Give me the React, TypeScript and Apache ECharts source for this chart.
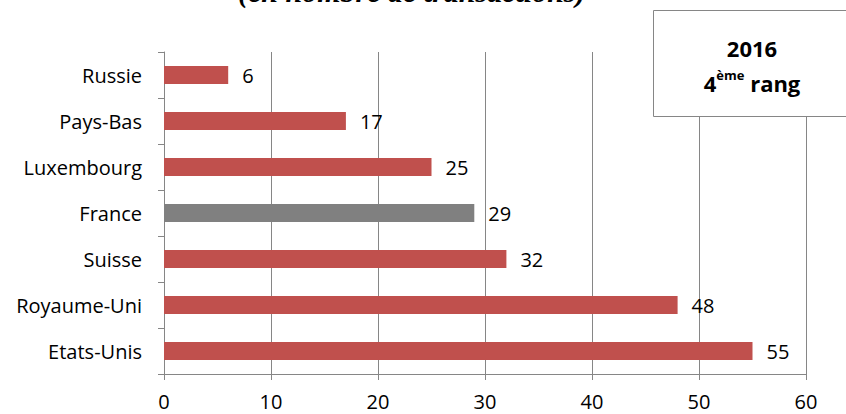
import React, { useEffect, useRef } from "react";
import * as echarts from "echarts";

const categories = ["Etats-Unis", "Royaume-Uni", "Suisse", "France", "Luxembourg", "Pays-Bas", "Russie"];
const values = [55, 48, 32, 29, 25, 17, 6];
const highlight = "France";
const xTicks = [0, 10, 20, 30, 40, 50, 60];
const titleText = "(en nombre de transactions)";
const boxYear = "2016";

const RED = "#C0504D";
const GREY = "#808080";
const AXIS = "#868686";
const FONT = "'Open Sans', 'Noto Sans', sans-serif";

export default function App() {
  const ref = useRef<HTMLDivElement>(null);
  useEffect(() => {
    document.body.style.margin = "0";
    const chart = echarts.init(ref.current!, null, { renderer: "svg" });
    chart.setOption({
      animation: false,
      backgroundColor: "#ffffff",
      grid: { left: 164, right: 40, top: 52, bottom: 40, containLabel: false },
      xAxis: {
        type: "value",
        min: xTicks[0],
        max: xTicks[xTicks.length - 1],
        interval: 10,
        axisLine: { show: true, lineStyle: { color: AXIS, width: 1 } },
        axisTick: { show: true, length: 6, lineStyle: { color: AXIS } },
        splitLine: { show: true, lineStyle: { color: AXIS, width: 1 } },
        axisLabel: { color: "#000", fontFamily: FONT, fontSize: 20, margin: 17 },
      },
      yAxis: {
        type: "category",
        data: categories,
        axisLine: { show: true, lineStyle: { color: AXIS, width: 1 } },
        axisTick: { show: true, length: 6, lineStyle: { color: AXIS } },
        axisLabel: { color: "#000", fontFamily: FONT, fontSize: 20, margin: 22 },
      },
      series: [
        {
          type: "bar",
          data: values.map((v, i) => ({
            value: v,
            itemStyle: { color: categories[i] === highlight ? GREY : RED },
          })),
          barWidth: "39%",
          label: {
            show: true,
            position: "right",
            distance: 14,
            color: "#000",
            fontFamily: FONT,
            fontSize: 20,
          },
        },
      ],
      graphic: [
        {
          type: "text",
          left: 238,
          top: -24,
          z: 10,
          style: {
            text: titleText,
            fontFamily: "'Liberation Serif', 'DejaVu Serif', serif",
            fontWeight: "bold",
            fontStyle: "italic",
            fontSize: 30,
            fill: "#000",
          },
        },
        {
          type: "rect",
          z: 10,
          shape: { x: 653.5, y: 10.5, width: 198, height: 106 },
          style: { fill: "#fff", stroke: AXIS, lineWidth: 1 },
        },
        {
          type: "text",
          z: 11,
          x: 752,
          y: 48,
          style: {
            text: boxYear,
            align: "center",
            verticalAlign: "middle",
            fontFamily: FONT,
            fontWeight: "bold",
            fontSize: 22,
            fill: "#000",
          },
        },
        {
          type: "text",
          z: 11,
          x: 752,
          y: 81,
          style: {
            text: "{b|4}{s|ème}{b| rang}",
            align: "center",
            verticalAlign: "middle",
            rich: {
              b: { fontFamily: FONT, fontWeight: "bold", fontSize: 22, fill: "#000", lineHeight: 26, verticalAlign: "bottom" },
              s: { fontFamily: FONT, fontWeight: "bold", fontSize: 13, fill: "#000", lineHeight: 18, verticalAlign: "top" },
            },
          },
        },
      ],
    });
    return () => chart.dispose();
  }, []);
  return <div ref={ref} style={{ position: "absolute", left: 0, top: 0, width: 846, height: 414 }} />;
}
